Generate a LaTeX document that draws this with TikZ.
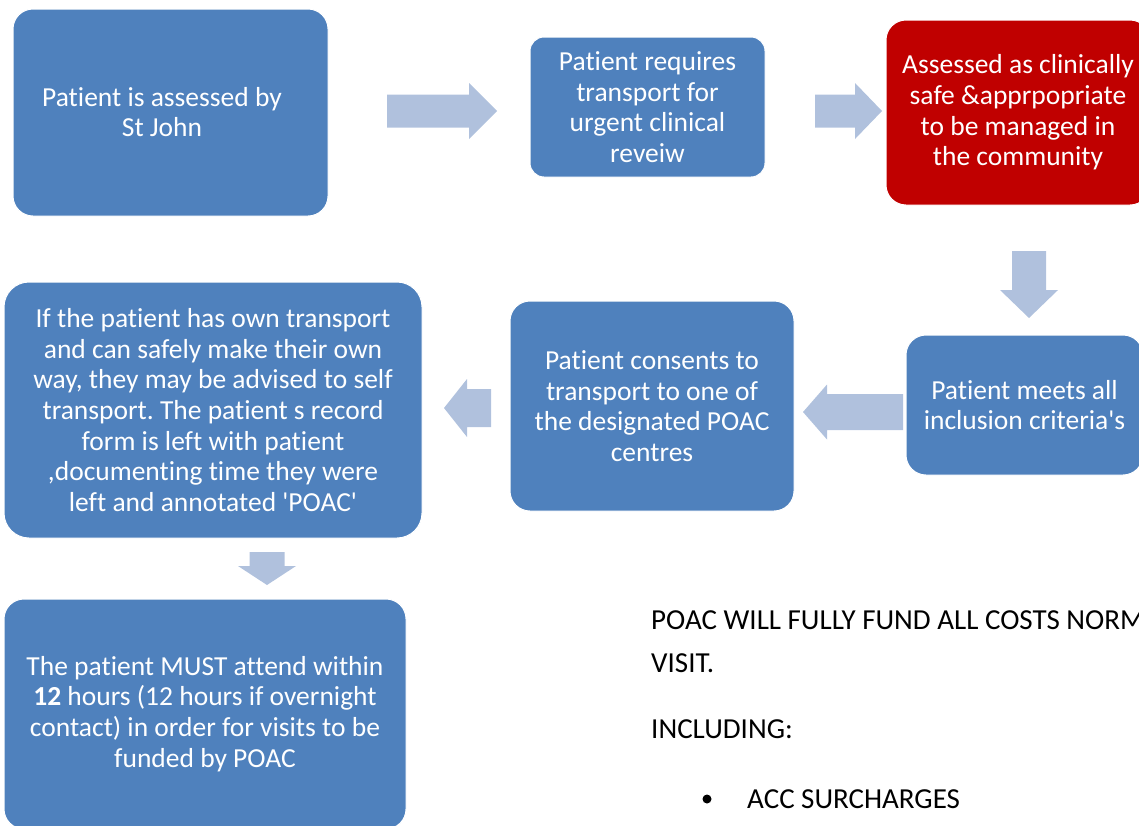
\documentclass[tikz,border=0pt]{standalone}
\usepackage{fontspec}
\setmainfont{Carlito}[RawFeature={-liga;-clig;-calt;-dlig}]
\usetikzlibrary{positioning}
\frenchspacing

\definecolor{boxblue}{HTML}{4F81BD}
\definecolor{boxred}{HTML}{C00000}
\definecolor{arrowfill}{HTML}{B0C1DD}

% block arrow: tip coordinate, rotation, length, head length, shaft half width, head half width
\newcommand{\blockarrow}[6]{%
  \fill[arrowfill, shift={(#1)}, rotate=#2]
    (0,0) -- (-#4,-#6) -- (-#4,-#5) -- (-#3,-#5) -- (-#3,#5) -- (-#4,#5) -- (-#4,#6) -- cycle;}

\begin{document}
\begin{tikzpicture}[
  x=1pt, y=-1pt,
  line cap=round,
  line join=round,
  stepbox/.style={rectangle, rounded corners=20pt, fill=boxblue, draw=white,
    line width=1pt, text=white, align=center, inner sep=0pt,
    font=\fontsize{27.5}{30.7}\selectfont},
  redbox/.style={stepbox, fill=boxred},
  boxtext/.style={text=white, align=center, inner sep=0pt,
    font=\fontsize{27.5}{30.7}\selectfont},
  note/.style={anchor=base west, inner sep=0pt, font=\fontsize{29}{35}\selectfont}
]
  \useasboundingbox (0,0) rectangle (1139,825);

  % Top row
  \node[stepbox, minimum width=315pt, minimum height=207pt] (assessed) at (170.5,112.5) {};
  \node[boxtext] (assessedtext) at (162,112) {Patient is assessed by\\St John};
  \node[stepbox, rounded corners=14pt, minimum width=235pt, minimum height=140pt] (requires) at (647.5,107)
    {Patient requires\\transport for\\urgent clinical\\reveiw};
  \node[redbox, minimum width=264pt, minimum height=185pt] (safe) at (1018,112.5)
    {Assessed as clinically\\safe \&apprpopriate\\to be managed in\\the community};

  % Middle row
  \node[stepbox, minimum width=237pt, minimum height=140pt] (criteria) at (1024.5,405)
    {Patient meets all\\inclusion criteria\textquotesingle s};
  \node[stepbox, minimum width=284pt, minimum height=210pt] (consents) at (652,406)
    {Patient consents to\\transport to one of\\the designated POAC\\centres};
  \node[stepbox, rounded corners=25pt, minimum width=418pt, minimum height=256pt] (selftransport) at (213,410)
    {If the patient has own transport\\and can safely make their own\\way, they may be advised to self\\transport. The patient s record\\form is left with patient\\,documenting time they were\\left and annotated \textquotesingle POAC\textquotesingle};

  % Bottom
  \node[stepbox, minimum width=402pt, minimum height=230pt] (attend) at (205,714)
    {The patient MUST attend within\\\textbf{12} hours (12 hours if overnight\\contact) in order for visits to be\\funded by POAC};

  % Arrow tips
  \coordinate (tipA) at (497,111);
  \coordinate (tipB) at (882,111);
  \coordinate (tipC) at (1029,318);
  \coordinate (tipD) at (803,412);
  \coordinate (tipE) at (444,408);
  \coordinate (tipF) at (267,585);

  \blockarrow{tipA}{0}{110}{28}{16.5}{28}
  \blockarrow{tipB}{0}{67}{27}{16.5}{28}
  \blockarrow{tipC}{-90}{67}{28}{17}{29}
  \blockarrow{tipD}{180}{100}{24}{18}{27.5}
  \blockarrow{tipE}{180}{47}{23}{19}{29}
  \blockarrow{tipF}{-90}{33}{19}{17.5}{29}

  % Notes
  \node[note] (fund) at (651,629) {POAC WILL FULLY FUND ALL COSTS NORM};
  \node[note] (visit) at (651,672) {VISIT.};
  \node[note] (including) at (651,738) {INCLUDING:};
  \node[note] (acc) at (747,808) {ACC SURCHARGES};
  \coordinate (bullet) at (707,799);
  \fill (bullet) circle (4.5pt);
\end{tikzpicture}
\end{document}
